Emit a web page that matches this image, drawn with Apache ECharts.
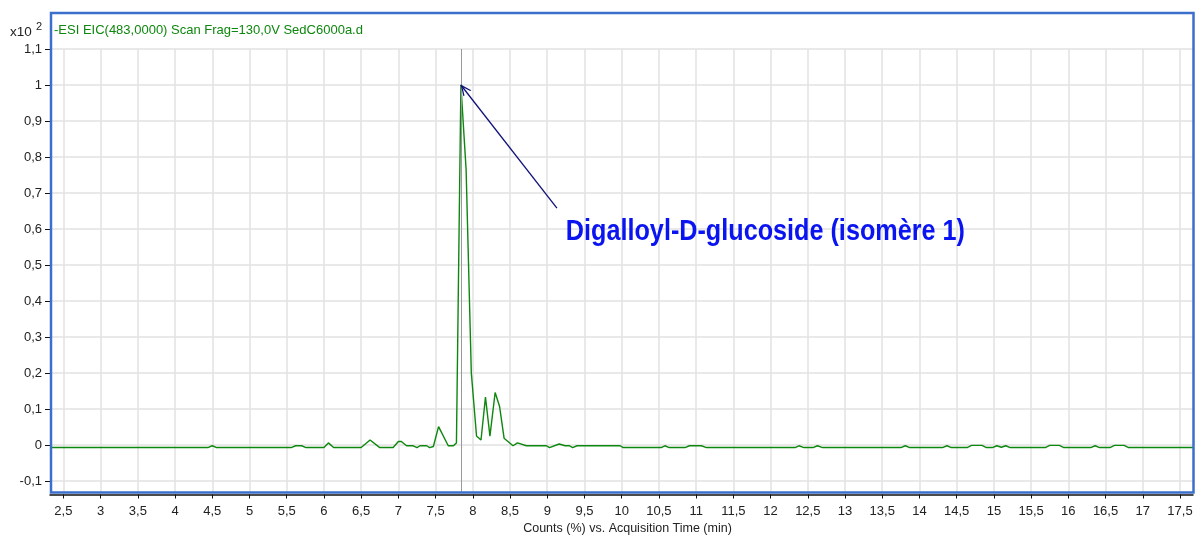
<!DOCTYPE html>
<html><head><meta charset="utf-8">
<script src="https://cdn.jsdelivr.net/npm/echarts@6/dist/echarts.min.js"></script>
<style>html,body{margin:0;padding:0;background:#fff}#c{width:1195px;height:537px}</style>
</head><body><div id="c"></div>
<script>
const traceTitle = '-ESI EIC(483,0000) Scan Frag=130,0V SedC6000a.d';
const scaleLabel = 'x10';
const scaleExp = '2';
const xAxisTitle = 'Counts (%) vs. Acquisition Time (min)';
const annotationText = 'Digalloyl-D-glucoside (isomère 1)';

const times = [2.32, 4.44, 4.50, 4.56, 5.56, 5.62, 5.70, 5.76, 6.00, 6.06, 6.13, 6.50, 6.62, 6.75, 6.93, 7.00, 7.04, 7.11, 7.20, 7.25,
  7.29, 7.38, 7.42, 7.47, 7.54, 7.67, 7.74, 7.78, 7.84, 7.91, 7.98, 8.05, 8.11, 8.17, 8.23, 8.30, 8.36, 8.42, 8.54, 8.60,
  8.72, 8.99, 9.03, 9.16, 9.24, 9.30, 9.34, 9.40, 9.98, 10.02, 10.53, 10.58, 10.64, 10.85, 10.91, 11.07, 11.14, 12.33, 12.38, 12.45,
  12.57, 12.63, 12.70, 13.75, 13.81, 13.87, 14.31, 14.37, 14.43, 14.64, 14.70, 14.84, 14.90, 14.98, 15.04, 15.10, 15.16, 15.22, 15.69, 15.75,
  15.88, 15.94, 16.30, 16.36, 16.42, 16.56, 16.62, 16.75, 16.81, 17.675];
const intensity = [-0.007, -0.007, -0.002, -0.007, -0.007, -0.002, -0.002, -0.007, -0.007, 0.006, -0.007, -0.007, 0.014, -0.007, -0.007, 0.010, 0.010, -0.002, -0.002, -0.007,
  -0.002, -0.002, -0.007, -0.004, 0.051, -0.002, -0.002, 0.006, 1.0, 0.765, 0.20, 0.025, 0.014, 0.133, 0.025, 0.146, 0.107, 0.019, -0.002, 0.006,
  -0.002, -0.002, -0.007, 0.003, -0.002, -0.002, -0.007, -0.002, -0.002, -0.007, -0.007, -0.002, -0.007, -0.007, -0.002, -0.002, -0.007, -0.007, -0.002, -0.007,
  -0.007, -0.002, -0.007, -0.007, -0.002, -0.007, -0.007, -0.002, -0.007, -0.007, -0.001, -0.001, -0.007, -0.007, -0.002, -0.006, -0.002, -0.007, -0.007, -0.001,
  -0.001, -0.007, -0.007, -0.002, -0.007, -0.007, -0.001, -0.001, -0.007, -0.007];

const xTicks = [2.5, 3, 3.5, 4, 4.5, 5, 5.5, 6, 6.5, 7, 7.5, 8, 8.5, 9, 9.5, 10, 10.5, 11, 11.5, 12, 12.5, 13, 13.5, 14, 14.5, 15, 15.5, 16, 16.5, 17, 17.5];
const yTicks = [-0.1, 0, 0.1, 0.2, 0.3, 0.4, 0.5, 0.6, 0.7, 0.8, 0.9, 1, 1.1];
const xRange = [2.32, 17.675];
const yRange = [-0.129, 1.1];

const peakTime = 7.84;
const peakValue = 1.0;
const arrowTail = [9.13, 0.658];
const labelAnchor = [9.25, 0.592];

const fmt = v => String(v).replace('.', ',');
const FONT = '"Liberation Sans", Arial, sans-serif';
const GREEN = '#0e870e';

const chart = echarts.init(document.getElementById('c'), null, {renderer: 'canvas'});
chart.setOption({
  animation: false,
  backgroundColor: '#fff',
  title: [
    {text: traceTitle, left: 54, top: 24, padding: 0, textStyle: {fontSize: 13, fontWeight: 'normal', color: GREEN, fontFamily: FONT}},
    {text: scaleLabel, left: 10, top: 25, padding: 0, textStyle: {fontSize: 13.5, fontWeight: 'normal', color: '#222', fontFamily: FONT}},
    {text: scaleExp, left: 36, top: 21, padding: 0, textStyle: {fontSize: 11, fontWeight: 'normal', color: '#222', fontFamily: FONT}}
  ],
  grid: {left: 50, right: 2, top: 49, bottom: 45.5, containLabel: false, outerBoundsMode: 'none'},
  xAxis: {
    type: 'value', min: xRange[0], max: xRange[1], offset: 3,
    name: xAxisTitle, nameLocation: 'middle', nameGap: 27,
    nameTextStyle: {fontSize: 12.5, color: '#222', fontFamily: FONT, padding: [0, 0, 0, 12]},
    axisLine: {show: true, onZero: false, lineStyle: {color: '#111', width: 1.5}},
    axisTick: {show: true, length: 4, customValues: xTicks, lineStyle: {color: '#111'}},
    axisLabel: {customValues: xTicks, formatter: v => fmt(v), fontSize: 13, color: '#222', fontFamily: FONT, margin: 10},
    splitLine: {show: true, lineStyle: {color: '#e2e2e2', width: 1.5}}
  },
  yAxis: {
    type: 'value', min: yRange[0], max: yRange[1],
    axisLine: {show: true, onZero: false, lineStyle: {color: '#111', width: 1}},
    axisTick: {show: true, length: 5, customValues: yTicks, lineStyle: {color: '#111'}},
    axisLabel: {customValues: yTicks, formatter: v => fmt(v), fontSize: 13, color: '#222', fontFamily: FONT, margin: 8},
    splitLine: {show: true, lineStyle: {color: '#e2e2e2', width: 1.5}}
  },
  series: [{
    type: 'line',
    data: times.map((t, i) => [t, intensity[i]]),
    showSymbol: false, symbol: 'none',
    lineStyle: {color: GREEN, width: 1.4},
    z: 3,
    markLine: {
      silent: true, animation: false,
      symbol: ['none', 'none'],
      label: {show: false},
      data: [
        [{xAxis: peakTime, yAxis: yRange[1], symbol: 'none', lineStyle: {color: '#999', width: 1, type: 'solid'}},
         {xAxis: peakTime, yAxis: yRange[0], symbol: 'none'}],
        [{coord: arrowTail, symbol: 'none', lineStyle: {color: '#10107a', width: 1.3, type: 'solid'}},
         {coord: [peakTime, peakValue], symbol: 'path://M5,0 L10,11 L8.6,11 L5,3 L1.4,11 L0,11 Z', symbolSize: [10, 11], symbolOffset: [0, 5]}]
      ]
    }
  }],
  graphic: [{
    type: 'rect', silent: true, z: 100,
    shape: {x: 51, y: 13, width: 1142.5, height: 479.5},
    style: {fill: 'none', stroke: '#3c6fcc', lineWidth: 2.5}
  }]
});

// annotation text anchored at a data coordinate, condensed horizontally like a narrow bold face
const p = chart.convertToPixel({seriesIndex: 0}, labelAnchor);
chart.setOption({
  graphic: [{
    type: 'rect', silent: true, z: 100,
    shape: {x: 51, y: 13, width: 1142.5, height: 479.5},
    style: {fill: 'none', stroke: '#3c6fcc', lineWidth: 2.5}
  }, {
    type: 'text', silent: true, z: 50,
    x: p[0], y: p[1], scaleX: 0.84,
    style: {
      text: annotationText, fill: '#0a14f0',
      font: 'bold 30px "Liberation Sans", Arial, sans-serif',
      textAlign: 'left', textVerticalAlign: 'middle', align: 'left', verticalAlign: 'middle'
    }
  }]
});
</script></body></html>
